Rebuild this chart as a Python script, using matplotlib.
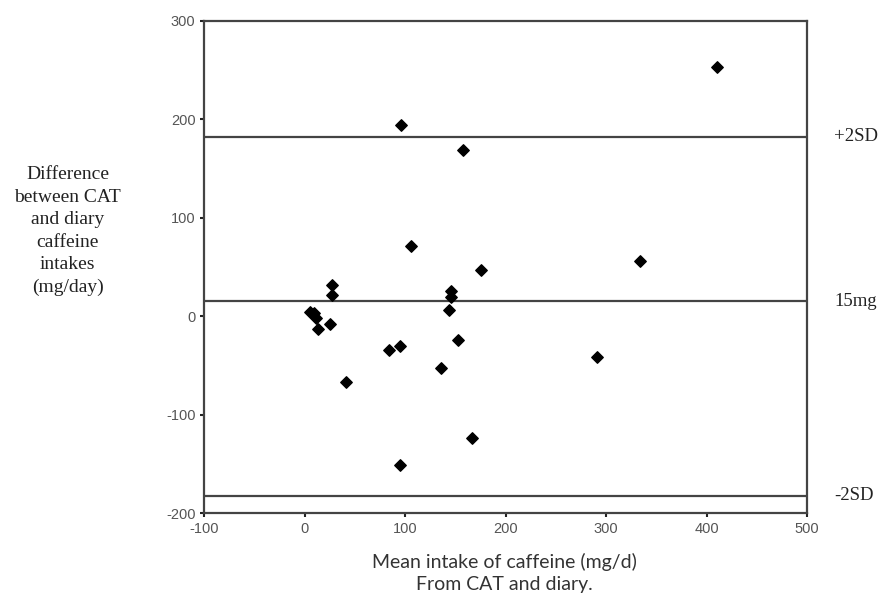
import matplotlib
matplotlib.use("Agg")
import matplotlib.pyplot as plt

plt.rcParams["axes.unicode_minus"] = False

# Data
mean_intake = [410, 96, 157, 106, 175, 27, 27, 145.5, 145.5, 334, 144, 5, 9, 11, 12.6, 25,
               41, 84, 95, 136, 152, 166.5, 95, 291]
difference = [253, 194, 169, 71, 47, 32, 22, 26, 20, 56, 6, 4, 3, -2, -12.8, -8,
              -67, -34, -30, -53, -24, -124, -151, -41]

ref_values = [182, 15, -182]
ref_labels = ["+2SD", "15mg", "-2SD"]

x_ticks = [-100, 0, 100, 200, 300, 400, 500]
y_ticks = [-200, -100, 0, 100, 200, 300]

fig = plt.figure(figsize=(8.84, 5.97), dpi=100)
ax = fig.add_axes([0.2313, 0.1402, 0.9129 - 0.2313, 0.9653 - 0.1402])

ax.set_xlim(-100, 500)
ax.set_ylim(-200, 300)

for v in ref_values:
    ax.axhline(v, color="#444444", lw=1.6, zorder=1)

ax.scatter(mean_intake, difference, marker="D", s=34, color="black", zorder=3)

for sp in ax.spines.values():
    sp.set_color("#444444")
    sp.set_linewidth(1.6)

ax.set_xticks(x_ticks)
ax.set_yticks(y_ticks)
ax.tick_params(axis="both", direction="out", length=3, width=1.5, color="#222222",
               labelcolor="#555555", labelsize=10.5)
for lab in ax.get_xticklabels() + ax.get_yticklabels():
    lab.set_family("Liberation Sans")

for v, t in zip(ref_values, ref_labels):
    ax.text(1.045, v, t, transform=ax.get_yaxis_transform(), ha="left", va="center",
            fontsize=13.5, family="Liberation Serif", color="#222222")

fig.text(0.0764, 0.613, "Difference\nbetween CAT\nand diary\ncaffeine\nintakes\n(mg/day)",
         ha="center", va="center", fontsize=14, family="Liberation Serif",
         color="#222222", linespacing=1.42)

fig.text(0.571, 0.040, "Mean intake of caffeine (mg/d)\nFrom CAT and diary.",
         ha="center", va="center", fontsize=14, family="Lato", color="#333333",
         linespacing=1.4)

fig.savefig("out.png", dpi=100)
